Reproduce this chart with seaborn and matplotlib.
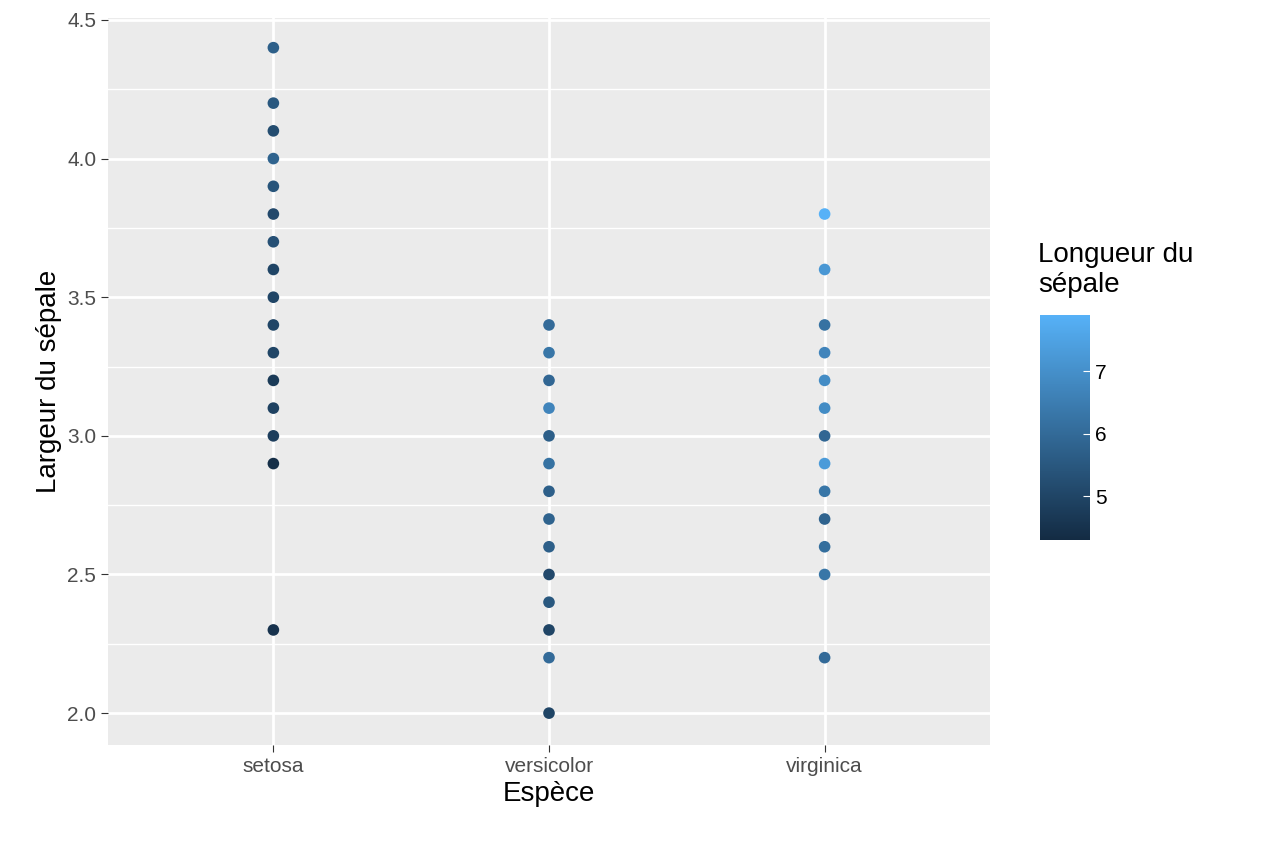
import numpy as np
import pandas as pd
import matplotlib
matplotlib.use("Agg")
import matplotlib.pyplot as plt
from matplotlib.colors import LinearSegmentedColormap, Normalize
import seaborn as sns

plt.rcParams["font.family"] = ["Liberation Sans", "DejaVu Sans"]

species = ["setosa", "versicolor", "virginica"]
setosa_w = [4.4, 4.2, 4.1, 4.0, 3.9, 3.8, 3.7, 3.6, 3.5, 3.4, 3.3, 3.2, 3.1, 3.0, 2.9, 2.3]
setosa_l = [5.7, 5.5, 5.2, 5.8, 5.4, 5.1, 5.3, 5.0, 5.0, 5.0, 5.0, 4.7, 4.9, 4.8, 4.4, 4.5]
versi_w = [3.4, 3.3, 3.2, 3.1, 3.0, 2.9, 2.8, 2.7, 2.6, 2.5, 2.4, 2.3, 2.2, 2.0]
versi_l = [6.0, 6.3, 5.9, 6.7, 5.7, 6.2, 5.7, 5.8, 5.7, 5.1, 5.5, 5.0, 6.0, 5.0]
virg_w = [3.8, 3.6, 3.4, 3.3, 3.2, 3.1, 3.0, 2.9, 2.8, 2.7, 2.6, 2.5, 2.2]
virg_l = [7.9, 7.2, 6.2, 6.7, 6.9, 6.9, 5.9, 7.3, 6.3, 5.8, 6.1, 6.3, 6.0]

df = pd.DataFrame({
    "Espèce": ["setosa"] * len(setosa_w) + ["versicolor"] * len(versi_w) + ["virginica"] * len(virg_w),
    "largeur": setosa_w + versi_w + virg_w,
    "longueur": setosa_l + versi_l + virg_l,
})
df["x"] = df["Espèce"].map({s: i for i, s in enumerate(species)})

cmap = LinearSegmentedColormap.from_list("gg", ["#132B43", "#56B1F7"])
norm = Normalize(4.3, 7.9)

fig = plt.figure(figsize=(12.64, 8.43), dpi=100)
ax = fig.add_axes([108 / 1264, 1 - 745 / 843, (990 - 108) / 1264, (745 - 18) / 843])
ax.set_facecolor("#EBEBEB")
sns.scatterplot(data=df, x="x", y="largeur", hue="longueur", palette=cmap, hue_norm=norm,
                s=70, edgecolor="none", legend=False, ax=ax, zorder=3)
ax.set_xlim(-0.6, 2.6)
ax.set_ylim(1.885, 4.507)
ax.set_xticks([0, 1, 2])
ax.set_xticklabels(species)
ax.set_yticks([2.0, 2.5, 3.0, 3.5, 4.0, 4.5])
ax.set_yticks(np.arange(2.25, 4.5, 0.5), minor=True)
ax.grid(True, which="major", color="white", lw=2)
ax.grid(True, which="minor", axis="y", color="white", lw=1)
ax.set_axisbelow(True)
for s in ax.spines.values():
    s.set_visible(False)
ax.tick_params(axis="both", which="major", labelsize=15, color="#333333", labelcolor="#4D4D4D", length=5)
ax.tick_params(which="minor", length=0)
ax.set_xlabel("Espèce", fontsize=20)
ax.set_ylabel("Largeur du sépale", fontsize=20)

cax = fig.add_axes([1040 / 1264, 1 - 540 / 843, 50 / 1264, 225 / 843])
sm = plt.cm.ScalarMappable(norm=norm, cmap=cmap)
cb = fig.colorbar(sm, cax=cax, ticks=[5, 6, 7])
cb.outline.set_visible(False)
cax.tick_params(labelsize=15, color="white", length=5, direction="in")
fig.text(1038 / 1264, 1 - 298 / 843, "Longueur du\nsépale", fontsize=20, va="bottom", ha="left")

fig.savefig("out.png", dpi=100)
